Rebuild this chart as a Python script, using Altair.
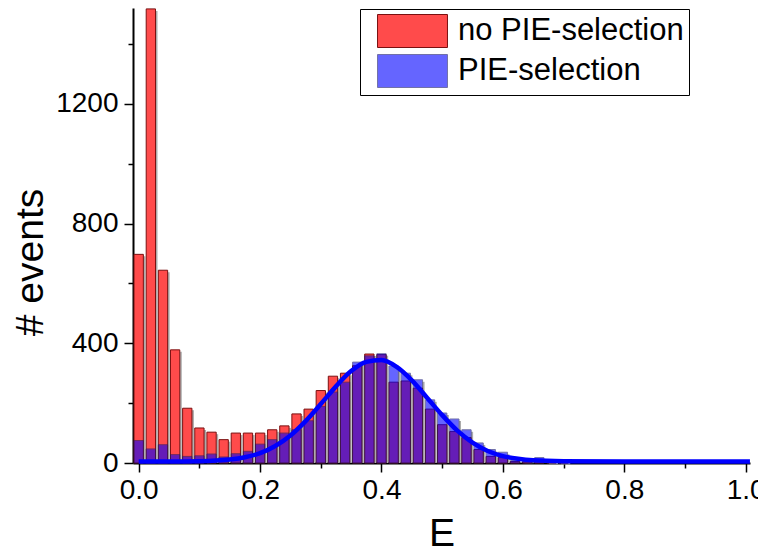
import altair as alt
import pandas as pd

# ---- data ----
E = [0.00, 0.02, 0.04, 0.06, 0.08, 0.10, 0.12, 0.14, 0.16, 0.18,
     0.20, 0.22, 0.24, 0.26, 0.28, 0.30, 0.32, 0.34, 0.36, 0.38,
     0.40, 0.42, 0.44, 0.46, 0.48, 0.50, 0.52, 0.54, 0.56, 0.58,
     0.60, 0.62, 0.64, 0.66, 0.68, 0.70]
no_pie = [697, 1517, 644, 378, 183, 117, 103, 78, 100, 100,
          100, 111, 124, 164, 180, 242, 290, 300, 325, 364,
          362, 270, 274, 250, 180, 128, 105, 85, 45, 22,
          18, 5, 4, 10, 2, 1]
pie = [75, 47, 61, 28, 22, 24, 30, 20, 31, 39,
       63, 78, 100, 111, 141, 189, 237, 270, 337, 358,
       365, 324, 300, 278, 211, 167, 147, 111, 67, 45,
       36, 8, 6, 18, 3, 2]
fit_E = [0.00, 0.05, 0.10, 0.15, 0.175, 0.20, 0.225, 0.25, 0.275, 0.30,
         0.325, 0.35, 0.375, 0.40, 0.425, 0.45, 0.475, 0.50, 0.525, 0.55,
         0.575, 0.60, 0.625, 0.65, 0.70, 0.80, 0.90, 1.007]
fit_counts = [5, 5, 6, 11.5, 19, 33, 57, 92, 140, 197,
              256, 307, 338, 344, 321, 276, 218, 160, 108, 68,
              40, 23, 14, 9, 6, 5, 5, 5]
SERIES = ["no PIE-selection", "PIE-selection"]
x_ticks = [0.0, 0.1, 0.2, 0.3, 0.4, 0.5, 0.6, 0.7, 0.8, 0.9, 1.0]
y_ticks = [0, 200, 400, 600, 800, 1000, 1200, 1400]

rows = []
for e, r, b in zip(E, no_pie, pie):
    rows.append({"E": e, "count": r, "series": SERIES[0]})
    rows.append({"E": e, "count": b, "series": SERIES[1]})
long_df = pd.DataFrame(rows)
wide_df = pd.DataFrame({"E": E, "no_pie": no_pie, "pie": pie})
wide_df["top"] = wide_df[["no_pie", "pie"]].max(axis=1)
fit_df = pd.DataFrame({"E": fit_E, "count": fit_counts})

FONT = "Liberation Sans"
HALF_BIN = 0.00766  # half of the drawn bar width, in E units

xscale = alt.Scale(domain=[-0.0094, 1.0071], nice=False, zero=False)
yscale = alt.Scale(domain=[0, 1520], nice=False)

x_axis = alt.Axis(
    values=x_ticks,
    labelExpr="round(datum.value*10) % 2 === 0 ? format(datum.value, '.1f') : ''",
    tickSize={"condition": {"test": "round(datum.value*10) % 2 === 0", "value": 9}, "value": 5},
    labelPadding=4,
    title="E",
    titleX=308.5,
    titleY=70,
    titleAlign="center",
    titleBaseline="middle",
)
y_axis = alt.Axis(
    values=y_ticks,
    format="d",
    labelExpr="datum.value % 400 === 0 ? datum.label : ''",
    tickSize={"condition": {"test": "datum.value % 400 === 0", "value": 9}, "value": 5},
    labelPadding=6,
    title="# events",
    titleX=-103,
    titleY=254,
    titleAngle=270,
    titleAlign="center",
    titleBaseline="middle",
)

XL = alt.X("x0:Q", scale=xscale, axis=x_axis)
XR = alt.X2("x1:Q")
Y0 = alt.datum(0)

color_enc = alt.Color("series:N", scale=alt.Scale(domain=SERIES, range=["#FF4B4B", "#0000FF"]),
                      legend=alt.Legend(title=None))
stroke_enc = alt.Stroke("series:N", scale=alt.Scale(domain=SERIES, range=["#7A1010", "#14146E"]),
                        legend=alt.Legend(title=None))
opac_enc = alt.Opacity("series:N", scale=alt.Scale(domain=SERIES, range=[1.0, 0.6]),
                       legend=alt.Legend(title=None))

base_wide = alt.Chart(wide_df).transform_calculate(
    x0=f"datum.E - {HALF_BIN}", x1=f"datum.E + {HALF_BIN}"
)
shadow = base_wide.mark_bar(color="#ABABAB", xOffset=2, x2Offset=2, yOffset=2).encode(
    x=XL, x2=XR, y=alt.Y("top:Q", scale=yscale, axis=y_axis), y2=Y0
)
white = base_wide.mark_bar(color="white").encode(
    x=XL, x2=XR, y=alt.Y("top:Q", scale=yscale, axis=y_axis), y2=Y0
)

base_long = alt.Chart(long_df).transform_filter("datum.count > 0").transform_calculate(
    x0=f"datum.E - {HALF_BIN}", x1=f"datum.E + {HALF_BIN}"
)
red = base_long.transform_filter(alt.datum.series == SERIES[0]).mark_bar(strokeWidth=1).encode(
    x=XL, x2=XR, y=alt.Y("count:Q", scale=yscale, axis=y_axis), y2=Y0,
    color=color_enc, stroke=stroke_enc, opacity=opac_enc,
)
blue = base_long.transform_filter(alt.datum.series == SERIES[1]).mark_bar(strokeWidth=1).encode(
    x=XL, x2=XR, y=alt.Y("count:Q", scale=yscale, axis=y_axis), y2=Y0,
    color=color_enc, stroke=stroke_enc, opacity=opac_enc,
)
line = alt.Chart(fit_df).mark_line(color="#0000FF", strokeWidth=4.5, interpolate="monotone").encode(
    x=alt.X("E:Q", scale=xscale, axis=x_axis), y=alt.Y("count:Q", scale=yscale, axis=y_axis)
)

chart = alt.layer(shadow, white, red, blue, line).properties(
    width=617,
    height=455,
    padding={"left": 125, "top": 0, "right": 8, "bottom": 86},
    autosize=alt.AutoSizeParams(type="none"),
).configure_view(stroke=None).configure_axis(
    domainColor="black",
    domainWidth=2,
    tickColor="black",
    tickWidth=1.5,
    labelFont=FONT,
    labelFontSize=28,
    labelColor="black",
    titleFont=FONT,
    titleFontSize=39,
    titleFontWeight="normal",
    titleColor="black",
    grid=False,
    zindex=1,
).configure_legend(
    orient="none",
    legendX=227,
    legendY=1,
    direction="vertical",
    symbolType="M-2.12,-1H2.12V1H-2.12Z",
    symbolSize=1089,
    symbolStrokeWidth=1,
    labelFont=FONT,
    labelFontSize=31,
    labelColor="black",
    labelLimit=400,
    labelOffset=28.5,
    padding=5,
    symbolOffset=30.5,
    rowPadding=2,
    strokeColor="black",
    fillColor="white",
    cornerRadius=0,
)

chart.save("out.html", embed_options={"renderer": "svg", "actions": False})
